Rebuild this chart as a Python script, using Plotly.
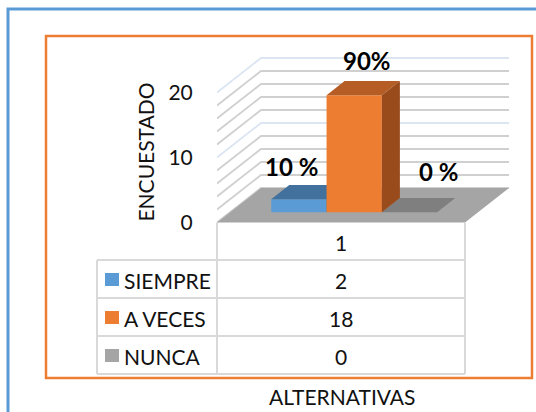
import plotly.graph_objects as go

# ---------------- data ----------------
category_labels = ["1"]
series_names = ["SIEMPRE", "A VECES", "NUNCA"]
series_values = [2, 18, 0]
data_labels = ["10 %", "90%", "0 %"]
y_tick_values = [0, 10, 20]
grid_values = [0, 2, 4, 6, 8, 10, 12, 14, 16, 18, 20]
major_grid_values = [10, 20]
y_title = "ENCUESTADO"
x_title = "ALTERNATIVAS"

# ---------------- style ----------------
W, H = 536, 412
FONT = "Lato, 'Liberation Sans', Arial, sans-serif"
TXT = "#111111"
front_colors = ["#5B9BD5", "#ED7D31", "#A5A5A5"]
top_colors = ["#41719C", "#B55D24", "#7F7F7F"]
side_colors = ["#3A6690", "#9A4B1C", "#6E6E6E"]
zorders = [2, 3, 2]
label_shift = [(-16, 26), (4, 28), (20, 34)]

PX_X0 = 217.0      # pixel of x = 0 (floor front-left)
PX_PER_X = 248.0   # pixels per category width
PX_V0 = 222.5      # pixel of value 0 on front plane
PX_PER_V = 6.5     # pixels per value unit
DEPTH_DX_PX, DEPTH_DY_PX = 44.0, 34.5
DXu = DEPTH_DX_PX / PX_PER_X
DYu = DEPTH_DY_PX / PX_PER_V
Z0, Z1 = 0.30, 0.71
BAR_W = 0.223
Y_DOM_PX = (40.0, 264.0)

def proj(x, v, z):
    return x + z * DXu, v + z * DYu

def px(xp):
    return xp / W

def py(yp):
    return 1 - yp / H

fig = go.Figure()

# walls gridlines (left wall + back wall)
for vals, color in [([g for g in grid_values if g not in major_grid_values], "#D0D0D0"),
                    (major_grid_values, "#DCE6F2")]:
    xs, ys = [], []
    for g in vals:
        for (x, z) in [(0, 0), (0, 1), (1, 1)]:
            a, b = proj(x, g, z)
            xs.append(a); ys.append(b)
        xs.append(None); ys.append(None)
    fig.add_trace(go.Scatter(x=xs, y=ys, mode="lines", line=dict(color=color, width=1.8),
                             hoverinfo="skip", zorder=0))

# floor
fx, fy = zip(*[proj(0, 0, 0), proj(1, 0, 0), proj(1, 0, 1), proj(0, 0, 1), proj(0, 0, 0)])
fig.add_trace(go.Scatter(x=list(fx), y=list(fy), mode="lines", fill="toself",
                         fillcolor="#A5A5A5", line=dict(width=0, color="#A5A5A5"),
                         hoverinfo="skip", zorder=1))

n = len(series_values)
centers = [0.5 + (i - (n - 1) / 2) * BAR_W for i in range(n)]

for i, (name, v) in enumerate(zip(series_names, series_values)):
    c = centers[i]
    xl, xr = c - BAR_W / 2, c + BAR_W / 2
    # front face (real bar)
    fig.add_trace(go.Bar(x=[c + Z0 * DXu], y=[v], base=[Z0 * DYu], width=[BAR_W],
                         marker=dict(color=front_colors[i], line=dict(width=0)),
                         name=name, hoverinfo="skip", zorder=zorders[i]))
    # top face
    pts = [proj(xl, v, Z0), proj(xr, v, Z0), proj(xr, v, Z1), proj(xl, v, Z1), proj(xl, v, Z0)]
    tx, ty = zip(*pts)
    fig.add_trace(go.Scatter(x=list(tx), y=list(ty), mode="lines", fill="toself",
                             fillcolor=top_colors[i], line=dict(width=0, color=top_colors[i]),
                             hoverinfo="skip", zorder=zorders[i]))
    # right side face
    if v > 0:
        pts = [proj(xr, 0, Z0), proj(xr, v, Z0), proj(xr, v, Z1), proj(xr, 0, Z1), proj(xr, 0, Z0)]
        sx, sy = zip(*pts)
        fig.add_trace(go.Scatter(x=list(sx), y=list(sy), mode="lines", fill="toself",
                                 fillcolor=side_colors[i], line=dict(width=0, color=side_colors[i]),
                                 hoverinfo="skip", zorder=zorders[i]))

annotations = []
# data labels
for i, v in enumerate(series_values):
    ax, ay = proj(centers[i], v, 0.5)
    annotations.append(dict(x=ax, y=ay, xref="x", yref="y", text="<b>%s</b>" % data_labels[i],
                            showarrow=False, xshift=label_shift[i][0], yshift=label_shift[i][1],
                            xanchor="center", yanchor="middle",
                            font=dict(family=FONT, size=24, color="#000000")))

# ---- data table (below floor) ----
TBL_LEFT, TBL_MID, TBL_RIGHT = 97.0, PX_X0, PX_X0 + PX_PER_X
ROW_Y = [PX_V0, 260.0, 298.0, 336.0, 374.0]
GRID_C = "#D9D9D9"
shapes = []
def hline(x0, x1, y):
    shapes.append(dict(type="line", xref="paper", yref="paper", x0=px(x0), x1=px(x1),
                       y0=py(y), y1=py(y), line=dict(color=GRID_C, width=2)))
def vline(x, y0, y1):
    shapes.append(dict(type="line", xref="paper", yref="paper", x0=px(x), x1=px(x),
                       y0=py(y0), y1=py(y1), line=dict(color=GRID_C, width=2)))
vline(TBL_MID, ROW_Y[0], ROW_Y[-1])
vline(TBL_RIGHT, ROW_Y[0], ROW_Y[-1])
vline(TBL_LEFT, ROW_Y[1], ROW_Y[-1])
for y in ROW_Y[1:]:
    hline(TBL_LEFT, TBL_RIGHT, y)

def text_ann(x, y, text, xanchor="center", size=21):
    return dict(x=px(x), y=py(y), xref="paper", yref="paper", text=text, showarrow=False,
                xanchor=xanchor, yanchor="middle", font=dict(family=FONT, size=size, color=TXT))

mid_x = (TBL_MID + TBL_RIGHT) / 2
annotations.append(text_ann(mid_x, (ROW_Y[0] + ROW_Y[1]) / 2 + 1, category_labels[0]))
for i, (name, v) in enumerate(zip(series_names, series_values)):
    yc = (ROW_Y[i + 1] + ROW_Y[i + 2]) / 2
    shapes.append(dict(type="rect", xref="paper", yref="paper", x0=px(105), x1=px(119),
                       y0=py(yc + 7), y1=py(yc - 6), fillcolor=front_colors[i], line=dict(width=0)))
    annotations.append(text_ann(122, yc + 1, name, xanchor="left"))
    annotations.append(text_ann(mid_x, yc + 1, str(v)))

# x axis title
annotations.append(text_ann(342, 396, x_title))

# frames
shapes.append(dict(type="rect", xref="paper", yref="paper", x0=px(8), x1=px(560),
                   y0=py(430), y1=py(9), line=dict(color="#5B9BD5", width=3), layer="above"))
shapes.append(dict(type="rect", xref="paper", yref="paper", x0=px(46), x1=px(532),
                   y0=py(378), y1=py(36), line=dict(color="#ED7D31", width=2.5), layer="above"))

fig.update_layout(
    width=W, height=H, margin=dict(l=0, r=0, t=0, b=0),
    paper_bgcolor="white", plot_bgcolor="rgba(0,0,0,0)",
    barmode="overlay", showlegend=False, hovermode=False,
    font=dict(family=FONT, color=TXT),
    xaxis=dict(domain=[px(PX_X0), 1], range=[0, (W - PX_X0) / PX_PER_X], visible=False,
               fixedrange=True),
    yaxis=dict(domain=[py(Y_DOM_PX[1]), py(Y_DOM_PX[0])],
               range=[(PX_V0 - Y_DOM_PX[1]) / PX_PER_V, (PX_V0 - Y_DOM_PX[0]) / PX_PER_V],
               tickvals=y_tick_values, ticks="outside", ticklen=19, tickcolor="rgba(0,0,0,0)",
               showgrid=False, zeroline=False, showline=False, fixedrange=True,
               tickfont=dict(family=FONT, size=21, color=TXT),
               title=dict(text=y_title, standoff=8, font=dict(family=FONT, size=21, color=TXT))),
    shapes=shapes, annotations=annotations,
)

fig.write_html("out.html", config={"displayModeBar": False},
               post_script="document.body.style.margin='0px';document.body.style.padding='0px';")
